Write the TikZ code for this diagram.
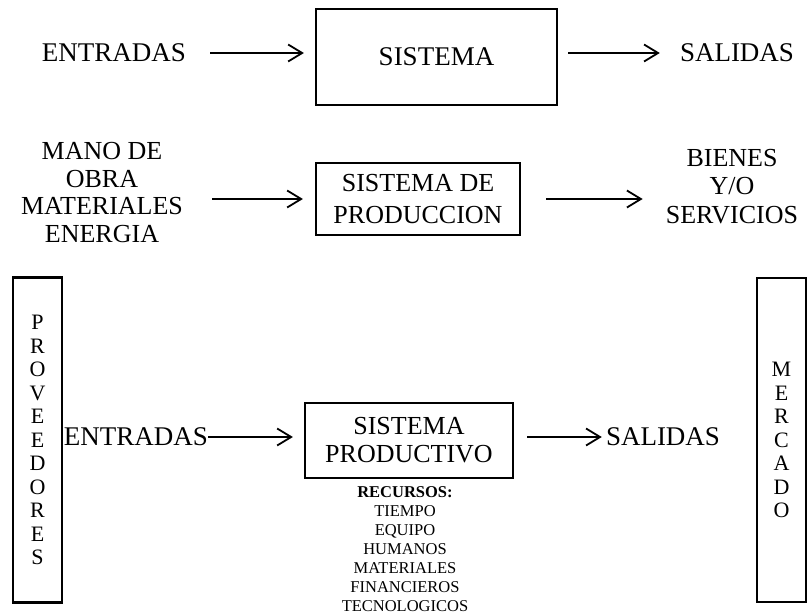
\documentclass[tikz,border=0pt]{standalone}
\usepackage{fontspec}
\setmainfont{Liberation Serif}
\usetikzlibrary{arrows.meta}
\tikzset{
	flecha/.style={line width=1.8pt,-{Straight Barb[length=14pt,width=17pt]}},
	caja/.style={draw,line width=2.2pt,inner sep=0pt,align=center},
	texto/.style={inner sep=0pt,align=center},
	grande/.style={font=\fontsize{27}{28}\selectfont},
	letras/.style={font=\fontsize{22}{23.5}\selectfont},
}
\begin{document}
\begin{tikzpicture}[x=1pt,y=-1pt]
		\useasboundingbox (0,0) rectangle (809,615);
		%primera fila
		\node[texto,grande] (ent1) at (114,53) {ENTRADAS};
		\node[caja,grande,minimum width=241pt,minimum height=96pt] (sis) at (436.5,57) {SISTEMA};
		\node[texto,grande] (sal1) at (737,53) {SALIDAS};
		\draw[flecha,shorten <=24pt,shorten >=11pt] (ent1.east) -- (ent1.east -| sis.west);
		\draw[flecha,shorten <=10pt,shorten >=20pt] (sis.east |- sal1.west) -- (sal1.west);
		%segunda fila
		\node[texto,font=\fontsize{26}{27.7}\selectfont] (mano) at (102,192.5) {MANO DE\\OBRA\\MATERIALES\\ENERGIA};
		\node[caja,font=\fontsize{26}{32}\selectfont,minimum width=204pt,minimum height=72pt] (sisp) at (418,199) {SISTEMA DE\\PRODUCCION};
		\node[texto,font=\fontsize{26}{28.5}\selectfont] (bienes) at (732,186.5) {BIENES\\Y/O\\SERVICIOS};
		\draw[flecha,shorten <=29pt,shorten >=12pt] (mano.east |- sisp) -- (sisp.west);
		\draw[flecha,shorten <=25pt,shorten >=23pt] (sisp.east) -- (sisp.east -| bienes.west);
		%tercera fila
		\node[caja,letras,minimum width=49pt,minimum height=325pt] (prov) at (37.5,440) {P\\R\\O\\V\\E\\E\\D\\O\\R\\E\\S};
		\node[caja,letras,minimum width=49pt,minimum height=324pt] (merc) at (781.5,440) {M\\E\\R\\C\\A\\D\\O};
		\node[texto,grande] (ent3) at (136,437) {ENTRADAS};
		\node[caja,font=\fontsize{26}{28}\selectfont,minimum width=208pt,minimum height=75pt] (prod) at (409,440.5) {SISTEMA\\PRODUCTIVO};
		\node[texto,grande] (sal3) at (663,437) {SALIDAS};
		\draw[flecha,shorten >=11pt] (ent3.east) -- (ent3.east -| prod.west);
		\draw[flecha,shorten <=13pt,shorten >=4pt] (prod.east |- sal3.west) -- (sal3.west);
		%recursos
		\node[texto,font=\fontsize{16.5}{19}\selectfont] (rec) at (405,549) {\textbf{RECURSOS:}\\TIEMPO\\EQUIPO\\HUMANOS\\MATERIALES\\FINANCIEROS\\TECNOLOGICOS};
	\end{tikzpicture}
\end{document}
